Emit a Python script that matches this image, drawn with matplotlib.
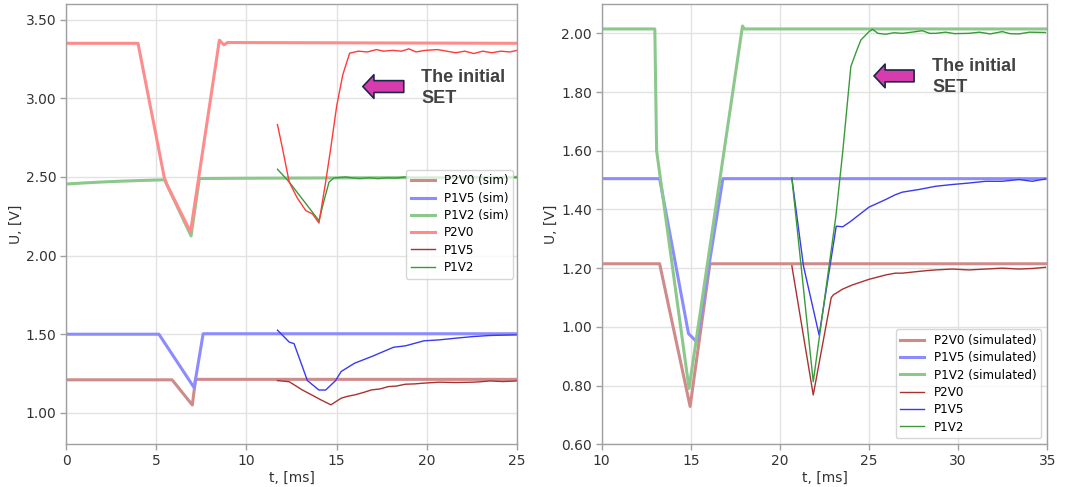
import matplotlib
matplotlib.use("Agg")
import matplotlib.pyplot as plt

# --- left panel data (t in ms, U in V) ---
l_p2v0_sim_t = [0, 5.88, 7.0, 7.18, 25]
l_p2v0_sim_v = [1.21, 1.21, 1.05, 1.213, 1.213]
l_p1v5_sim_t = [0, 5.15, 7.1, 7.6, 25]
l_p1v5_sim_v = [1.50, 1.50, 1.16, 1.503, 1.503]
l_p1v2_sim_t = [0, 1, 2, 3, 4, 5.46, 6.93, 7.39, 10, 15, 20, 25]
l_p1v2_sim_v = [2.455, 2.462, 2.468, 2.473, 2.477, 2.482, 2.125, 2.49, 2.492, 2.494, 2.496, 2.498]
l_p2v0_t = [0, 3.99, 5.44, 5.6, 6.9, 8.5, 8.75, 8.95, 25]
l_p2v0_v = [3.35, 3.35, 2.50, 2.45, 2.15, 3.37, 3.34, 3.355, 3.35]

# measured traces
l_red_t = [11.72, 12.0, 12.37, 12.8, 13.29, 13.66, 14.02, 14.39, 14.67, 15.0, 15.34, 15.72,
           16.2, 16.7, 17.2, 17.6, 18.1, 18.6, 19.0, 19.4, 19.9, 20.6, 21.1, 21.6, 22.1,
           22.6, 23.1, 23.6, 24.1, 24.6, 25]
l_red_v = [2.833, 2.68, 2.468, 2.37, 2.286, 2.265, 2.207, 2.468, 2.68, 2.95, 3.15, 3.287,
           3.30, 3.295, 3.31, 3.30, 3.305, 3.30, 3.315, 3.295, 3.305, 3.31, 3.30, 3.29, 3.30,
           3.285, 3.30, 3.29, 3.30, 3.295, 3.305]
l_p1v5_t = [11.72, 12.37, 13.09, 13.6, 14.12, 14.68, 15.25, 15.6, 16.0, 16.5, 16.94, 17.4, 17.87,
            18.3, 18.81, 19.3, 19.84, 20.69, 21.6, 22.56, 23.0, 23.5, 24.2, 25]
l_p1v5_v = [1.205, 1.198, 1.146, 1.115, 1.083, 1.051, 1.093, 1.105, 1.114, 1.13, 1.146, 1.152, 1.167,
            1.17, 1.182, 1.184, 1.189, 1.195, 1.193, 1.195, 1.198, 1.203, 1.199, 1.203]
l_p1v2_t = [11.72, 12.37, 14.02, 14.3, 14.58, 14.85, 15.5, 15.87, 16.3, 16.8, 17.3, 17.8, 18.3,
            18.8, 19.3, 19.8, 20.5, 21.5, 22.5, 23.5, 25]
l_p1v2_v = [2.549, 2.468, 2.222, 2.35, 2.468, 2.494, 2.50, 2.494, 2.49, 2.495, 2.49, 2.495, 2.493,
            2.50, 2.495, 2.497, 2.496, 2.497, 2.499, 2.497, 2.498]
l_blue_t = [11.72, 12.37, 12.64, 13.38, 14.02, 14.39, 14.94, 15.25, 16.0, 16.94, 18.15, 18.81,
            19.84, 20.69, 21.62, 22.56, 23.5, 25]
l_blue_v = [1.526, 1.45, 1.44, 1.205, 1.145, 1.145, 1.205, 1.263, 1.316, 1.358, 1.417, 1.426,
            1.458, 1.464, 1.475, 1.485, 1.492, 1.496]

# --- right panel data ---
r_p2v0_sim_t = [10, 13.25, 14.96, 16.07, 35]
r_p2v0_sim_v = [1.215, 1.215, 0.729, 1.215, 1.215]
r_p1v5_sim_t = [10, 13.25, 14.87, 15.33, 16.8, 35]
r_p1v5_sim_v = [1.505, 1.505, 0.977, 0.949, 1.505, 1.505]
r_p1v2_sim_t = [10, 12.98, 13.08, 14.9, 17.9, 18.0, 35]
r_p1v2_sim_v = [2.015, 2.015, 1.60, 0.79, 2.025, 2.015, 2.015]

r_p2v0_t = [20.67, 21.87, 22.88, 23.0, 23.53, 24.07, 25.0, 25.5, 25.94, 26.47, 26.87, 27.8, 28.3,
            28.74, 29.67, 30.6, 31.54, 32.48, 33.41, 34.2, 34.9]
r_p2v0_v = [1.208, 0.768, 1.10, 1.109, 1.129, 1.143, 1.162, 1.17, 1.177, 1.183, 1.183, 1.189, 1.192,
            1.194, 1.197, 1.194, 1.197, 1.2, 1.197, 1.199, 1.203]
r_p1v5_t = [20.67, 21.32, 22.2, 23.16, 23.53, 23.98, 25.0, 25.94, 26.47, 26.87, 27.8, 28.74, 29.67,
            30.6, 31.54, 32.48, 33.41, 34.16, 34.9]
r_p1v5_v = [1.507, 1.208, 0.972, 1.343, 1.341, 1.36, 1.408, 1.434, 1.45, 1.459, 1.468, 1.479, 1.485,
            1.49, 1.496, 1.496, 1.502, 1.496, 1.504]
r_p1v2_t = [20.67, 21.87, 23.14, 23.53, 23.98, 24.3, 24.54, 25.0, 25.19, 25.5, 25.94, 26.4, 26.87,
            27.4, 27.99, 28.4, 28.74, 29.3, 29.8, 30.6, 31.2, 31.8, 32.48, 32.9, 33.41, 34.0, 34.9]
r_p1v2_v = [1.507, 0.813, 1.377, 1.60, 1.887, 1.94, 1.977, 2.006, 2.014, 2.0, 1.997, 2.002, 2.0,
            2.004, 2.009, 2.0, 2.0, 2.004, 1.999, 2.0, 2.004, 1.998, 2.006, 1.999, 1.998, 2.004, 2.003]

plt.rcParams.update({
    'font.family': 'DejaVu Sans',
    'axes.edgecolor': '#a0a0a0',
    'axes.linewidth': 1.0,
    'xtick.color': '#a0a0a0',
    'ytick.color': '#a0a0a0',
    'xtick.labelcolor': '#333333',
    'ytick.labelcolor': '#333333',
    'xtick.labelsize': 10,
    'ytick.labelsize': 10,
    'axes.labelcolor': '#333333',
    'axes.labelsize': 10,
})

SIM_LW = 2.2
MEAS_LW = 1.0
sim_brown = '#cf8a8a'
sim_blue = '#8c8cff'
sim_green = '#8cc88c'
sim_red = '#ff8c8c'
meas_red = '#ff3a3a'
meas_brown = '#a83232'
meas_blue = '#3a3aee'
meas_green = '#3a9a3a'

fig = plt.figure(figsize=(10.65, 4.87), dpi=100)
ax1 = fig.add_axes([0.062, 0.0877, 0.4235, 0.9041])
ax2 = fig.add_axes([0.565, 0.0877, 0.4183, 0.9041])


def style_axis(ax):
    ax.grid(True, color='#e2e2e2', linewidth=1.0)
    ax.set_axisbelow(True)
    ax.tick_params(direction='out', length=4, width=1, pad=3)
    ax.yaxis.set_major_formatter(matplotlib.ticker.FormatStrFormatter('%.2f'))
    ax.set_xlabel('t, [ms]', labelpad=2)
    ax.set_ylabel('U, [V]', labelpad=2)


def add_note(ax, head, tail, text_xy):
    ax.annotate('', xy=head, xytext=tail,
                arrowprops=dict(arrowstyle='simple,head_length=0.8,head_width=1.7,tail_width=0.85',
                                mutation_scale=10, fc='#d63cae', ec='#1c2848', lw=1.2,
                                shrinkA=0, shrinkB=0))
    ax.text(text_xy[0], text_xy[1], 'The initial\nSET', fontsize=13, fontweight='bold',
            family='Liberation Sans', color='#424242', ha='left', va='center', linespacing=1.3)


# left panel
ax1.plot(l_p2v0_sim_t, l_p2v0_sim_v, color=sim_brown, lw=SIM_LW, label='P2V0 (sim)')
ax1.plot(l_p1v5_sim_t, l_p1v5_sim_v, color=sim_blue, lw=SIM_LW, label='P1V5 (sim)')
ax1.plot(l_p1v2_sim_t, l_p1v2_sim_v, color=sim_green, lw=SIM_LW, label='P1V2 (sim)')
ax1.plot(l_p2v0_t, l_p2v0_v, color=sim_red, lw=SIM_LW, label='P2V0')
ax1.plot(l_p1v5_t, l_p1v5_v, color=meas_brown, lw=MEAS_LW, label='P1V5')
ax1.plot(l_p1v2_t, l_p1v2_v, color=meas_green, lw=MEAS_LW, label='P1V2')
ax1.plot(l_red_t, l_red_v, color=meas_red, lw=MEAS_LW)
ax1.plot(l_blue_t, l_blue_v, color=meas_blue, lw=MEAS_LW)
ax1.set_xlim(0, 25)
ax1.set_ylim(0.8, 3.6)
ax1.set_xticks([0, 5, 10, 15, 20, 25])
ax1.set_yticks([1.0, 1.5, 2.0, 2.5, 3.0, 3.5])
style_axis(ax1)
ax1.legend(loc='center right', fontsize=8.6, borderaxespad=0.3, labelspacing=0.36)
add_note(ax1, (16.45, 3.075), (18.72, 3.075), (19.7, 3.065))

# right panel
ax2.plot(r_p2v0_sim_t, r_p2v0_sim_v, color=sim_brown, lw=SIM_LW, label='P2V0 (simulated)')
ax2.plot(r_p1v5_sim_t, r_p1v5_sim_v, color=sim_blue, lw=SIM_LW, label='P1V5 (simulated)')
ax2.plot(r_p1v2_sim_t, r_p1v2_sim_v, color=sim_green, lw=SIM_LW, label='P1V2 (simulated)')
ax2.plot(r_p2v0_t, r_p2v0_v, color=meas_brown, lw=MEAS_LW, label='P2V0')
ax2.plot(r_p1v5_t, r_p1v5_v, color=meas_blue, lw=MEAS_LW, label='P1V5')
ax2.plot(r_p1v2_t, r_p1v2_v, color=meas_green, lw=MEAS_LW, label='P1V2')
ax2.set_xlim(10, 35)
ax2.set_ylim(0.6, 2.1)
ax2.set_xticks([10, 15, 20, 25, 30, 35])
ax2.set_yticks([0.6, 0.8, 1.0, 1.2, 1.4, 1.6, 1.8, 2.0])
style_axis(ax2)
ax2.legend(loc='lower right', fontsize=8.6, labelspacing=0.36)
add_note(ax2, (25.28, 1.855), (27.53, 1.855), (28.55, 1.85))

fig.savefig('out.png', dpi=100)
